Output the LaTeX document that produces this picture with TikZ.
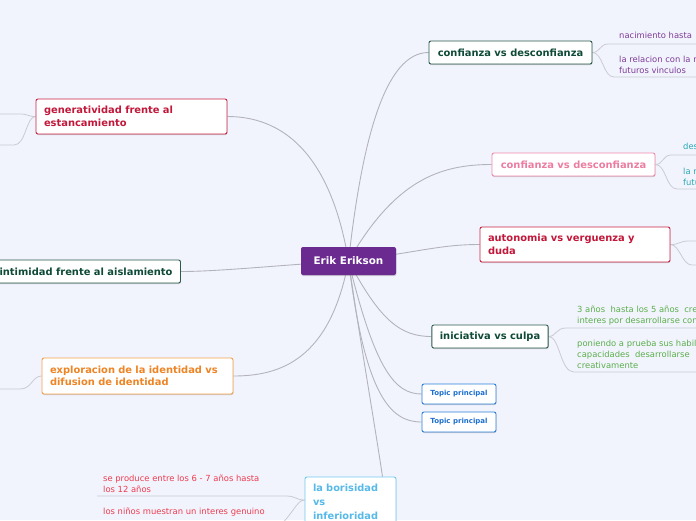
\documentclass[tikz,border=0pt]{standalone}
\usepackage{fontspec}
\setmainfont{DejaVu Sans}
\usetikzlibrary{backgrounds,shadows}
\definecolor{bgc}{HTML}{F2F4FD}
\definecolor{purp}{HTML}{6B2A90}
\definecolor{dgreenb}{HTML}{2A5A4B}
\definecolor{dgreent}{HTML}{0E4A37}
\definecolor{pinkb}{HTML}{EE8AAA}
\definecolor{pinkt}{HTML}{EC7DA0}
\definecolor{redb}{HTML}{C92343}
\definecolor{redt}{HTML}{C2183A}
\definecolor{orab}{HTML}{F5A04A}
\definecolor{orat}{HTML}{EE8424}
\definecolor{blueb}{HTML}{2B7FD9}
\definecolor{bluet}{HTML}{1C6FD0}
\definecolor{lblueb}{HTML}{72C8EF}
\definecolor{lbluet}{HTML}{55B9E9}
\definecolor{cpurp}{HTML}{7C3C97}
\definecolor{cteal}{HTML}{2AA7B5}
\definecolor{cgreen}{HTML}{5AAE4B}
\definecolor{cred}{HTML}{EE3B4E}
\definecolor{mainline}{HTML}{B3B3BC}
\definecolor{subline}{HTML}{CACAD4}
\tikzset{
  topicbox/.style={draw=#1, fill=white, line width=0.9pt, rounded corners=2pt,
    font=\fontsize{9.9}{12.5}\selectfont\bfseries, inner xsep=8pt, inner ysep=3pt,
    drop shadow={shadow xshift=0.4pt, shadow yshift=-1pt, opacity=0.35}},
  smallbox/.style={draw=blueb, fill=white, line width=0.9pt, rounded corners=2pt,
    font=\fontsize{7}{8}\selectfont\bfseries, text=bluet, minimum width=74pt, minimum height=20pt,
    drop shadow={shadow xshift=0.4pt, shadow yshift=-1pt, opacity=0.35}},
  leaf/.style={anchor=west, align=left, inner sep=0pt, font=\fontsize{8.4}{10.8}\selectfont},
  mainconn/.style={draw=mainline, line width=0.9pt},
  subconn/.style={draw=subline, line width=0.8pt},
}
\begin{document}
\begin{tikzpicture}[x=1pt,y=1pt]
\useasboundingbox (0,0) rectangle (696,-520);
% central
\node[fill=purp, rounded corners=2pt, text=white, font=\fontsize{10.4}{12}\selectfont\bfseries,
  minimum width=95pt, minimum height=28pt,
  drop shadow={shadow xshift=0.4pt, shadow yshift=-1pt, opacity=0.35}] (ee) at (348.5,-261) {Erik Erikson};
% right side
\node[topicbox=dgreenb, text=dgreent, minimum width=163pt, minimum height=23pt] (c1) at (510.5,-52.5) {confianza vs desconfianza};
\node[topicbox=pinkb, text=pinkt, minimum width=163pt, minimum height=23pt] (c2) at (573.5,-164.5) {confianza vs desconfianza};
\node[topicbox=redb, text=redt, minimum width=190pt, minimum height=35pt, text width=174pt, align=left] (au) at (575,-244.5) {autonomia vs verguenza y\\duda};
\node[topicbox=dgreenb, text=dgreent, minimum width=116pt, minimum height=23pt] (in) at (490,-336.5) {iniciativa vs culpa};
\node[smallbox] (t1) at (459,-394) {Topic principal};
\node[smallbox] (t2) at (459,-422) {Topic principal};
\node[topicbox=lblueb, text=lbluet, minimum width=91pt, minimum height=50pt, text width=75pt, align=left,
  font=\fontsize{9.8}{14}\selectfont\bfseries] (lb) at (350.5,-502) {la borisidad\\vs\\inferioridad};
% left side
\node[topicbox=redb, text=redt, minimum width=191pt, minimum height=35pt, text width=175pt, align=left] (ge) at (131.5,-116.5) {generatividad frente al\\estancamiento};
\node[topicbox=dgreenb, text=dgreent, minimum width=188pt, minimum height=23pt] (it) at (86,-271.5) {intimidad frente al aislamiento};
\node[topicbox=orab, text=orat, minimum width=191pt, minimum height=36pt, text width=175pt, align=left] (ex) at (137.5,-376) {exploracion de la identidad vs\\difusion de identidad};
% leaves
\node[leaf, text=cpurp] (l1) at (619,-35) {nacimiento hasta};
\node[leaf, text=cpurp] (l2) at (619,-64.5) {la relacion con la m\\futuros vinculos};
\node[leaf, text=cteal] (l3) at (683,-146) {des};
\node[leaf, text=cteal] (l4) at (683,-176.5) {la r\\futu};
\node[leaf, text=cgreen] (l5) at (577,-315.5) {3 años \ hasta los 5 años \ cre\\interes por desarrollarse con};
\node[leaf, text=cgreen] (l6) at (577,-354.5) {poniendo a prueba sus habil\\capacidades \ desarrollarse\\creativamente};
\node[leaf, text=cred] (l7) at (103,-483.5) {se produce entre los 6 - 7 años hasta\\los 12 años};
\node[leaf, text=cred] (l8) at (103,-512) {los niños muestran un interes genuino};
% end points
\coordinate (e1) at (696,-44);
\coordinate (e2) at (696,-77);
\coordinate (e3) at (696,-155);
\coordinate (e4) at (696,-189);
\coordinate (e5) at (696,-241);
\coordinate (e6) at (696,-265);
\coordinate (e7) at (696,-328);
\coordinate (e8) at (696,-372);
\coordinate (e9) at (97,-496);
\coordinate (e10) at (270,-535);
\coordinate (e11) at (0,-114);
\coordinate (e12) at (0,-145);
\coordinate (e13) at (0,-389);
\begin{scope}[on background layer]
\fill[bgc] (0,0) rectangle (696,-520);
% main connectors
\draw[mainconn] (ee.center) .. controls (362,-140) and (385,-52.5) .. (c1.west);
\draw[mainconn] (ee.center) .. controls (395,-180) and (440,-164.5) .. (c2.west);
\draw[mainconn] (ee.center) .. controls (420,-252) and (440,-244.5) .. (au.west);
\draw[mainconn] (ee.center) .. controls (380,-320) and (400,-336.5) .. (in.west);
\draw[mainconn] (ee.center) .. controls (375,-370) and (395,-394) .. (t1.west);
\draw[mainconn] (ee.center) .. controls (365,-395) and (390,-422) .. (t2.west);
\draw[mainconn] (ee.center) .. controls (360,-340) and (374,-420) .. ([xshift=32pt]lb.north);
\draw[mainconn] (ee.center) .. controls (330,-150) and (280,-116.5) .. (ge.east);
\draw[mainconn] (ee.center) .. controls (280,-265) and (220,-271.5) .. (it.east);
\draw[mainconn] (ee.center) .. controls (330,-360) and (280,-376) .. (ex.east);
% leaf connectors
\draw[subconn] (c1.east) .. controls (600,-52.5) and (600,-44) .. (608,-44) -- (e1);
\draw[subconn] (c1.east) .. controls (603,-52.5) and (603,-77) .. (614,-77) -- (e2);
\draw[subconn] (c2.east) .. controls (663,-164.5) and (663,-155) .. (671,-155) -- (e3);
\draw[subconn] (c2.east) .. controls (666,-164.5) and (666,-189) .. (677,-189) -- (e4);
\draw[subconn] (au.east) .. controls (678,-245) and (680,-241) .. (688,-241) -- (e5);
\draw[subconn] (au.east) .. controls (680,-245) and (682,-265) .. (692,-265) -- (e6);
\draw[subconn] (in.east) .. controls (556,-336.5) and (556,-328) .. (566,-328) -- (e7);
\draw[subconn] (in.east) .. controls (560,-336.5) and (560,-372) .. (574,-372) -- (e8);
\draw[subconn] (lb.west |- 0,-500) .. controls (296,-500) and (296,-496) .. (286,-496) -- (e9);
\draw[subconn] (lb.west |- 0,-500) .. controls (296,-500) and (294,-515) .. (e10);
\draw[subconn] (ge.west) .. controls (28,-116.5) and (28,-114) .. (20,-114) -- (e11);
\draw[subconn] (ge.west) .. controls (26,-116.5) and (26,-145) .. (14,-145) -- (e12);
\draw[subconn] (ex.west) .. controls (32,-376) and (32,-389) .. (20,-389) -- (e13);
\end{scope}
\end{tikzpicture}
\end{document}
